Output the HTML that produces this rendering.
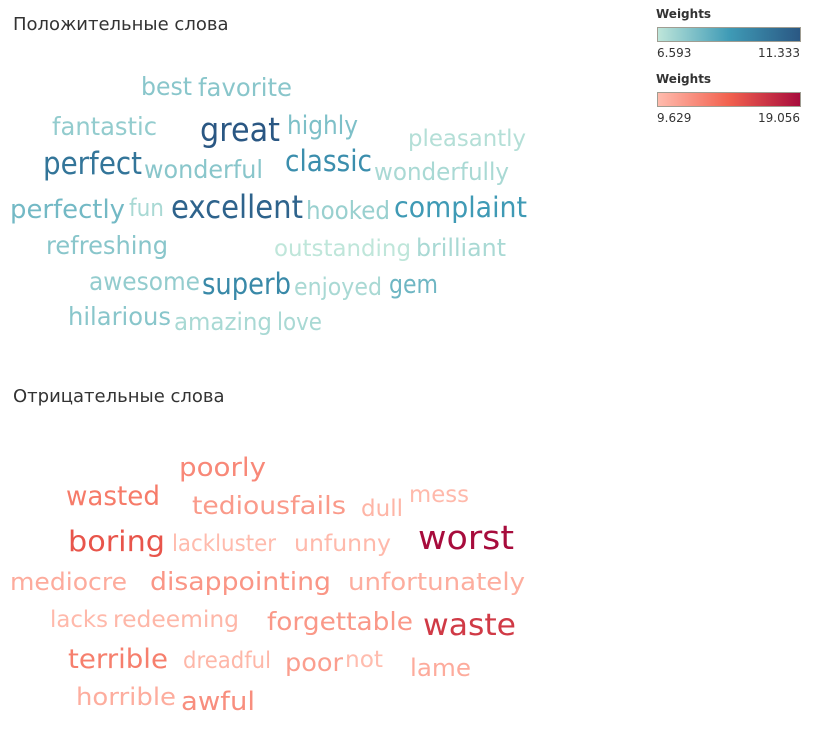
<!DOCTYPE html>
<html><head><meta charset="utf-8">
<style>
body{margin:0;background:#fff;width:814px;height:749px;overflow:hidden;font-family:"Liberation Sans","DejaVu Sans",sans-serif;}
svg text{font-family:"DejaVu Sans","Liberation Sans",sans-serif;}
</style></head>
<body>
<svg id="chart" width="814" height="749">
<defs>
<linearGradient id="gPos" x1="0" x2="1"><stop offset="0" stop-color="#bfe6da"/><stop offset="0.5" stop-color="#3f9bb6"/><stop offset="1" stop-color="#2a5783"/></linearGradient>
<linearGradient id="gNeg" x1="0" x2="1"><stop offset="0" stop-color="#ffbcae"/><stop offset="0.5" stop-color="#f2614e"/><stop offset="1" stop-color="#a70c3c"/></linearGradient>
</defs>
<text x="13" y="30" font-size="18" fill="#333" style="font-family:'DejaVu Sans',sans-serif">Положительные слова</text>
<text x="13" y="402" font-size="18" fill="#333" style="font-family:'DejaVu Sans',sans-serif">Отрицательные слова</text>
<g>
<text x="656" y="18" font-size="12" font-weight="bold" fill="#333">Weights</text>
<rect x="657.5" y="27.5" width="143" height="14" fill="url(#gPos)" stroke="#a09d92"/>
<text x="657" y="57" font-size="12" fill="#333">6.593</text>
<text x="800" y="57" font-size="12" fill="#333" text-anchor="end">11.333</text>
</g>
<g>
<text x="656" y="83" font-size="12" font-weight="bold" fill="#333">Weights</text>
<rect x="657.5" y="92.5" width="143" height="14" fill="url(#gNeg)" stroke="#a09d92"/>
<text x="657" y="122" font-size="12" fill="#333">9.629</text>
<text x="800" y="122" font-size="12" fill="#333" text-anchor="end">19.056</text>
</g>
<g id="pos"></g>
<g id="neg"></g>
</svg>
<script>
const posWords=["best","favorite","fantastic","great","highly","pleasantly","perfect","wonderful","classic","wonderfully","perfectly","fun","excellent","hooked","complaint","refreshing","outstanding","brilliant","awesome","superb","enjoyed","gem","hilarious","amazing","love"];
const posWeights=[7.6,7.6,7.4,11.333,7.8,6.8,10.3,7.6,9.4,7.0,8.0,7.0,10.9,7.3,9.0,7.6,6.593,7.0,7.4,9.6,7.0,8.1,7.6,7.0,7.0];
const negWords=["poorly","wasted","tedious","fails","dull","mess","boring","lackluster","unfunny","worst","mediocre","disappointing","unfortunately","lacks","redeeming","forgettable","waste","terrible","dreadful","poor","not","lame","horrible","awful"];
const negWeights=[12.3,13.0,11.4,11.4,10.0,9.8,15.0,9.7,9.8,19.056,10.5,11.6,10.4,9.8,9.9,11.5,16.5,12.8,9.9,11.2,9.629,10.5,10.4,12.0];
// layout (left x, baseline y, rendered width)
const posLayout=[[141,95,51],[198,96,94],[52,135,105],[200,141,80],[287,134,71],[408,146,118],[43,174,99],[144,178,119],[285,171,87],[374,180,135],[10,218,115],[129,216,35],[171,218,132],[306,219,84],[394,217,133],[46,254,122],[274,256,137],[416,256,90],[89,290,111],[202,294,89],[294,295,88],[389,293,49],[68,325,103],[174,330,98],[277,330,45]];
const negLayout=[[179,476,87],[66,505,94],[192,514,98],[290,514,56],[361,516,42],[409,502,60],[68,551,97],[172,551,104],[294,551,97],[418,549,96],[10,590,117],[150,590,181],[348,590,177],[50,627,58],[113,627,126],[267,630,146],[423,635,93],[68,668,100],[183,668,88],[285,671,58],[345,667,38],[410,676,61],[76,705,100],[181,710,74]];
function lerp(a,b,t){return a+(b-a)*t}
function hex(c){return [1,3,5].map(i=>parseInt(c.substr(i,2),16))}
function scale(stops,t){t=Math.max(0,Math.min(1,t));const s=t<0.5?0:1,lt=t<0.5?t*2:(t-0.5)*2;const a=hex(stops[s]),b=hex(stops[s+1]);return "rgb("+a.map((v,i)=>Math.round(lerp(v,b[i],lt))).join(",")+")"}
function draw(gid,words,weights,layout,min,max,stops,prefix){
  const g=document.getElementById(gid);
  words.forEach((w,i)=>{
    const t=(weights[i]-min)/(max-min);
    const t2=document.createElementNS("http://www.w3.org/2000/svg","text");
    const fs=23+t*10;
    t2.setAttribute("x",layout[i][0]);
    t2.setAttribute("y",layout[i][1]);
    t2.setAttribute("font-size",fs.toFixed(1));
    t2.setAttribute("textLength",layout[i][2]);
    t2.setAttribute("lengthAdjust","spacingAndGlyphs");
    t2.setAttribute("fill",scale(stops,t));
    t2.textContent=w;
    
    
    g.appendChild(t2);
  });
}
draw("pos",posWords,posWeights,posLayout,6.593,11.333,["#bfe6da","#3f9bb6","#2a5783"],"positive");
draw("neg",negWords,negWeights,negLayout,9.629,19.056,["#ffbcae","#f2614e","#a70c3c"],"negative");
</script>
</body></html>
